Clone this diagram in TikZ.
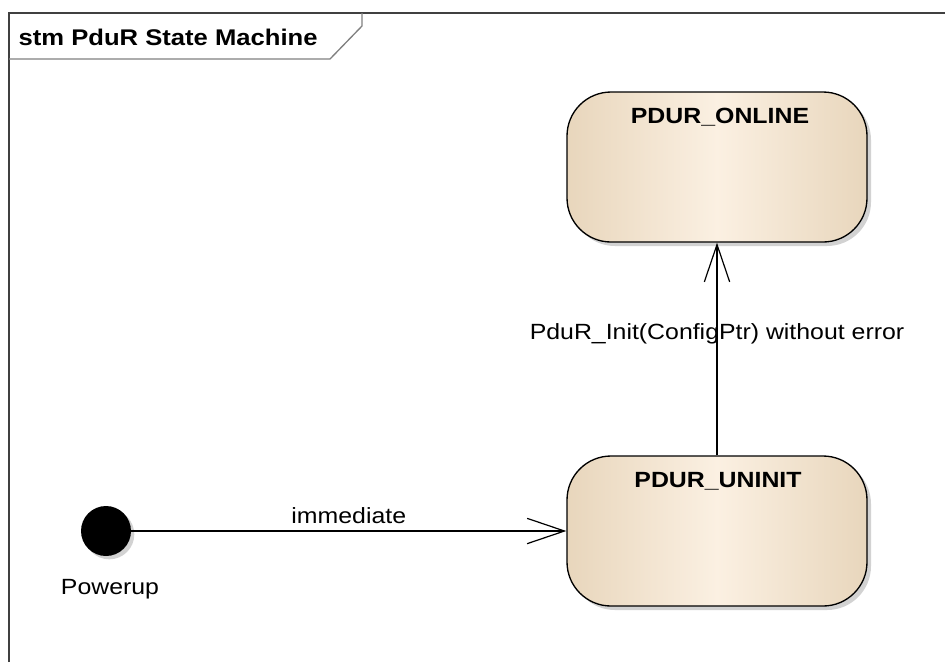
\documentclass[tikz,border=0pt]{standalone}
\usepackage{fontspec}
\setmainfont{Liberation Sans}[FakeStretch=1.13]
\usetikzlibrary{arrows.meta,shadows}

\definecolor{borde}{RGB}{64,64,64}
\definecolor{pestana}{RGB}{128,128,128}
\definecolor{tostado}{RGB}{232,214,188}
\definecolor{crema}{RGB}{251,240,226}

\tikzset{
  estado/.style={draw=black, line width=1pt, rounded corners=33pt,
    minimum width=225pt, minimum height=112.5pt,
    left color=tostado, right color=tostado, middle color=crema,
    drop shadow={shadow xshift=3pt, shadow yshift=-3pt, fill=black!35, opacity=0.5}},
  nombre/.style={font=\fontsize{16.5}{19}\selectfont\bfseries},
  texto/.style={font=\fontsize{16.5}{19}\selectfont},
  inicial/.style={circle, fill=black, minimum size=37.5pt, inner sep=0pt,
    drop shadow={shadow xshift=2.5pt, shadow yshift=-2.5pt, fill=black!35, opacity=0.5}},
  trans/.style={line width=0.9pt, -{Straight Barb[length=28pt, width=19pt, line width=0.9pt]}}
}

\begin{document}
\begin{tikzpicture}[x=0.75pt, y=-0.75pt]
  \useasboundingbox (0,0) rectangle (945,662);

  % Marco
  \draw[borde, line width=1.4pt] (9,662) -- (9,13) -- (945,13);
  \draw[pestana, line width=1pt] (9,59) -- (330,59) -- (362,26) -- (362,13);
  \node[nombre, anchor=west, font=\fontsize{17}{19}\selectfont\bfseries] (titulo) at (14,37) {stm PduR State Machine};

  % Estados
  \node[estado] (online) at (717,167) {};
  \node[nombre] (onlinelbl) at (720,117) {PDUR\_ONLINE};
  \node[estado] (uninit) at (717,531) {};
  \node[nombre] (uninitlbl) at (718,481) {PDUR\_UNINIT};

  % Punto inicial
  \node[inicial] (powerup) at (106,531) {};
  \node[texto] (poweruplbl) at (110,589) {Powerup};

  % Transiciones
  \draw[trans] (powerup) -- (uninit) node[texto, midway, above=1.5pt] (immlbl) {immediate};
  \draw[trans] (uninit) -- (online) node[texto, pos=0.57] (initlbl) {PduR\_Init(ConfigPtr) without error};
\end{tikzpicture}
\end{document}
